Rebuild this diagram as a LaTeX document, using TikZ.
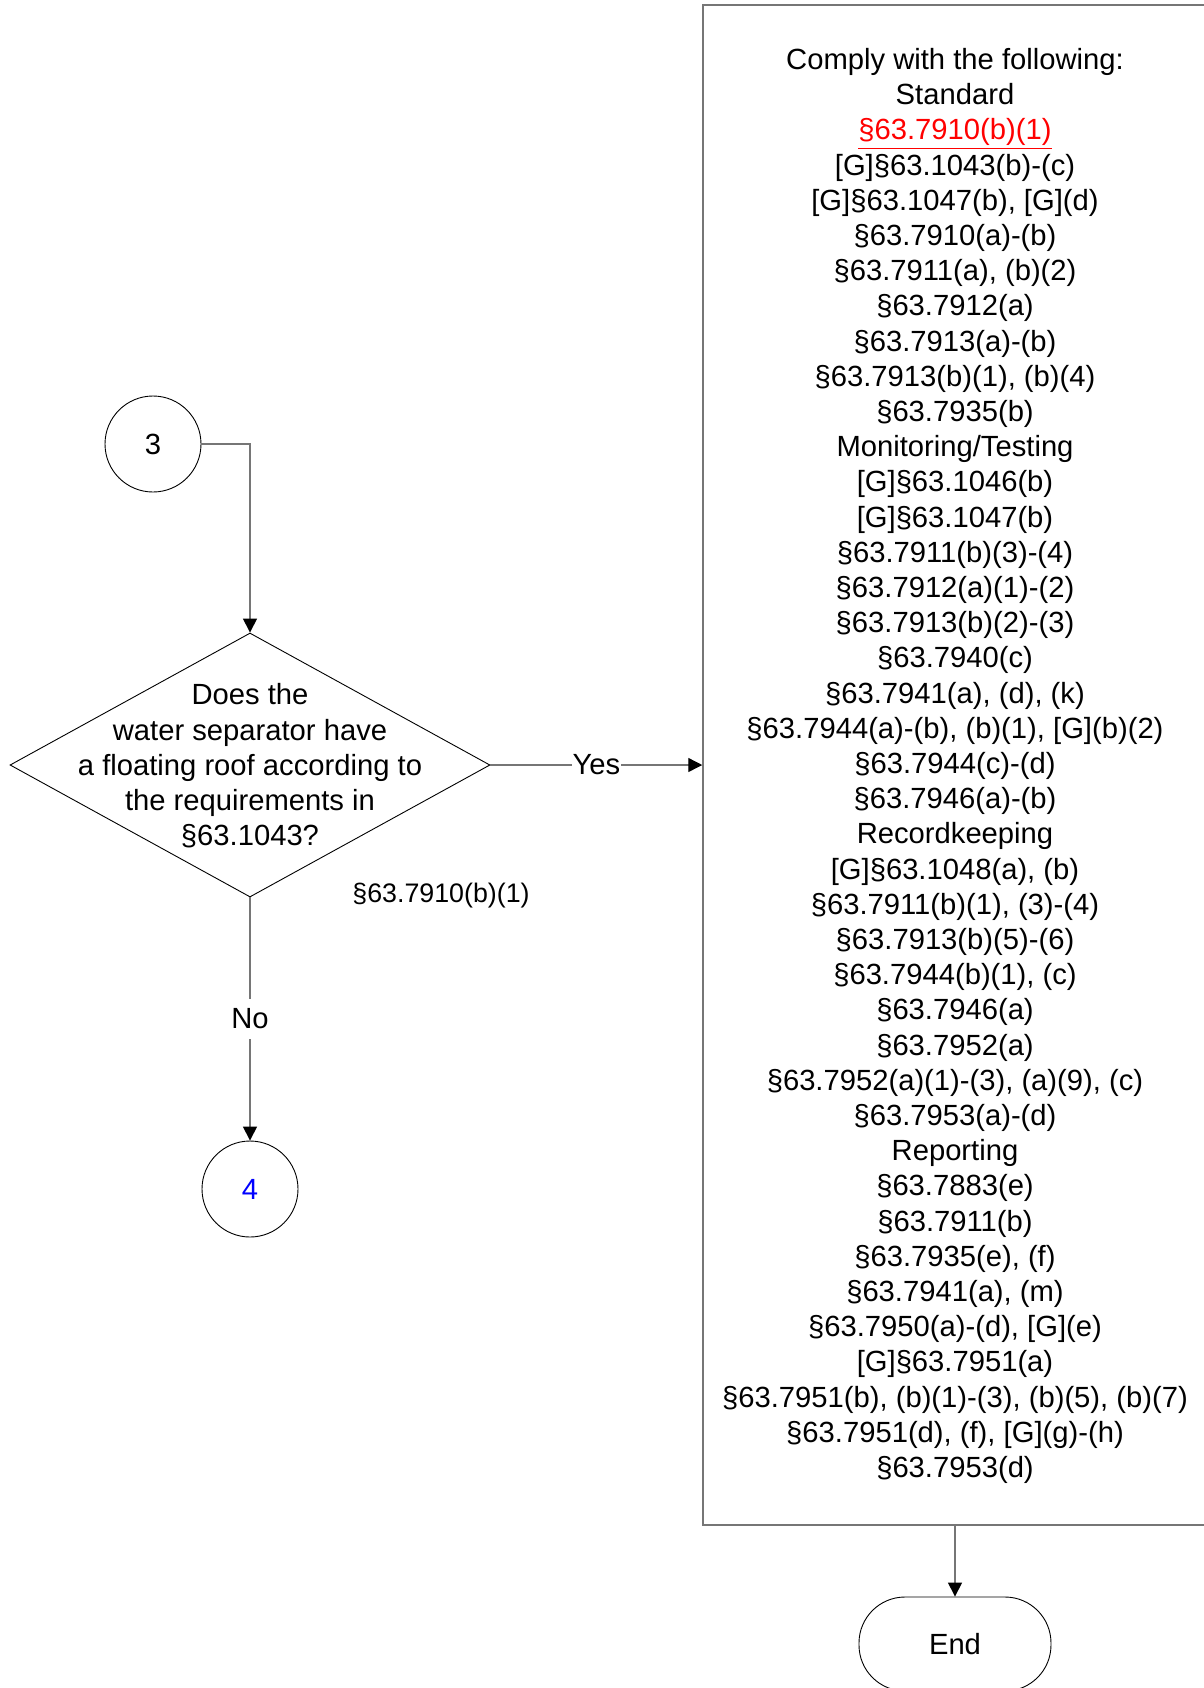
\documentclass[tikz,border=0pt]{standalone}
\usepackage{fontspec}
\setmainfont{Liberation Sans}
\usetikzlibrary{arrows.meta,shapes.geometric}
\definecolor{linegray}{RGB}{118,118,118}
\begin{document}
\begin{tikzpicture}[x=0.5pt,y=-0.5pt,
  every node/.style={font=\fontsize{14.6}{17.6}\selectfont},
  circ/.style={draw=black,line width=0.45pt,circle,minimum size=48pt,inner sep=0pt},
  dia/.style={draw=black,line width=0.45pt,diamond,minimum width=240pt,minimum height=132pt,inner sep=0pt},
  bigbox/.style={draw=linegray,line width=0.75pt,rectangle,minimum width=252pt,minimum height=760pt,inner sep=0pt},
  term/.style={draw=black,line width=0.45pt,rectangle,rounded corners=23pt,minimum width=96pt,minimum height=47pt,inner sep=0pt},
  conn/.style={draw=linegray,line width=0.7pt,-{Triangle[length=7pt,width=7pt,color=black,fill=black]}},
  lbl/.style={fill=white,inner xsep=0.5pt,inner ysep=5pt}
]
\useasboundingbox (0,0) rectangle (1204,1688);
\node[circ] (c3) at (153,444) {3};
\node[dia] (d) at (250,765) {};
\node[align=center,inner sep=0pt] (q) at (250,766) {Does the\\water separator have\\a floating roof according to\\the requirements in\\§63.1043?};
\node[circ,text=blue] (c4) at (250,1189) {4};
\node[bigbox] (b) at (955,765) {};
\node[align=center,inner sep=0pt] (bt) at (955,766) {Comply with the following:\\
Standard\\
\textcolor{red}{\underline{§63.7910(b)(1)}}\\
{[G]}§63.1043(b)-(c)\\
{[G]}§63.1047(b), [G](d)\\
§63.7910(a)-(b)\\
§63.7911(a), (b)(2)\\
§63.7912(a)\\
§63.7913(a)-(b)\\
§63.7913(b)(1), (b)(4)\\
§63.7935(b)\\
Monitoring/Testing\\
{[G]}§63.1046(b)\\
{[G]}§63.1047(b)\\
§63.7911(b)(3)-(4)\\
§63.7912(a)(1)-(2)\\
§63.7913(b)(2)-(3)\\
§63.7940(c)\\
§63.7941(a), (d), (k)\\
§63.7944(a)-(b), (b)(1), [G](b)(2)\\
§63.7944(c)-(d)\\
§63.7946(a)-(b)\\
Recordkeeping\\
{[G]}§63.1048(a), (b)\\
§63.7911(b)(1), (3)-(4)\\
§63.7913(b)(5)-(6)\\
§63.7944(b)(1), (c)\\
§63.7946(a)\\
§63.7952(a)\\
§63.7952(a)(1)-(3), (a)(9), (c)\\
§63.7953(a)-(d)\\
Reporting\\
§63.7883(e)\\
§63.7911(b)\\
§63.7935(e), (f)\\
§63.7941(a), (m)\\
§63.7950(a)-(d), [G](e)\\
{[G]}§63.7951(a)\\
§63.7951(b), (b)(1)-(3), (b)(5), (b)(7)\\
§63.7951(d), (f), [G](g)-(h)\\
§63.7953(d)};
\node[term] (e) at (955,1644) {End};
\node[font=\fontsize{13.4}{16}\selectfont] (ref) at (441,896) {§63.7910(b)(1)};
\draw[conn] (c3.east) -| (d.north);
\draw[conn] (d.east) -- node[lbl] (yes) {Yes} (b.west);
\draw[conn] (d.south) -- node[lbl] (no) {No} (c4.north);
\draw[conn] (b.south) -- (e.north);
\end{tikzpicture}
\end{document}
